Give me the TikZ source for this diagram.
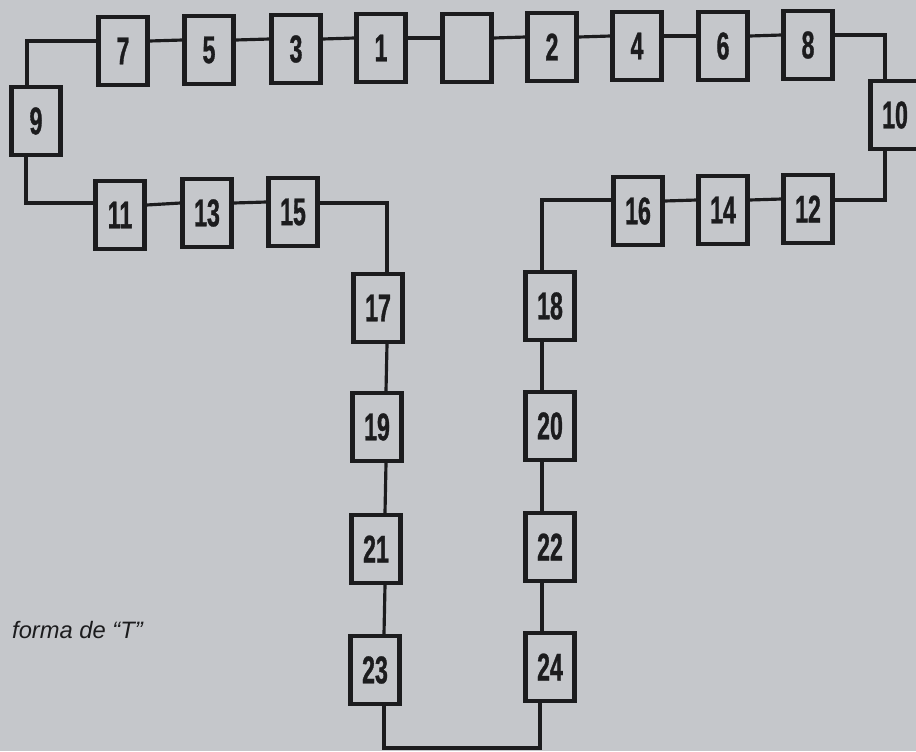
\documentclass[tikz,border=0pt]{standalone}
\usepackage{fontspec}
\setmainfont{Liberation Sans}
\newfontfamily\numfont[FakeStretch=0.6,FakeBold=0.8]{Liberation Sans}
\definecolor{paper}{RGB}{197,199,203}
\definecolor{ink}{RGB}{28,28,30}

\begin{document}
\begin{tikzpicture}[x=0.02cm, y=-0.02cm,
    every node/.style={text=ink, font=\numfont\bfseries\fontsize{22}{22}\selectfont},
    box/.style={draw=ink, line width=2.4pt, fill=paper, minimum width=0.98cm, minimum height=1.36cm, inner sep=0pt},
    link/.style={draw=ink, line width=1.8pt}]
        \fill[paper] (0,0) rectangle (916,751);
        \useasboundingbox (0,0) rectangle (916,751);
        % top row
        \node[box] (b7) at (123,51) {7};
        \node[box] (b5) at (209,50) {5};
        \node[box] (b3) at (296,49) {3};
        \node[box] (b1) at (381,48) {1};
        \node[box] (b0) at (467,48) {};
        \node[box] (b2) at (552,47) {2};
        \node[box] (b4) at (637,46) {4};
        \node[box] (b6) at (723,46) {6};
        \node[box] (b8) at (808,45) {8};
        % ends
        \node[box] (b9) at (36,121) {9};
        \node[box] (b10) at (895,115) {10};
        % second row
        \node[box] (b11) at (120,215) {11};
        \node[box] (b13) at (207,213) {13};
        \node[box] (b15) at (293,212) {15};
        \node[box] (b16) at (638,211) {16};
        \node[box] (b14) at (723,210) {14};
        \node[box] (b12) at (808,209) {12};
        % the two columns
        \node[box] (b17) at (378,308) {17};
        \node[box] (b19) at (377,427) {19};
        \node[box] (b21) at (376,549) {21};
        \node[box] (b23) at (375,670) {23};
        \node[box] (b18) at (550,306) {18};
        \node[box] (b20) at (550,426) {20};
        \node[box] (b22) at (550,547) {22};
        \node[box] (b24) at (550,667) {24};
        \coordinate (bot) at (460,748);
        \node[anchor=base west, font=\itshape\fontsize{13.5}{13.5}\selectfont] (cap) at (6,638) {forma de “T”};
        % links
        \foreach \a/\b in {b7/b5, b5/b3, b3/b1, b1/b0, b0/b2, b2/b4, b4/b6, b6/b8, b11/b13, b13/b15, b16/b14, b14/b12}
            \draw[link] ([yshift=0.2cm]\a.east) -- ([yshift=0.2cm]\b.west);
        \foreach \a/\b in {b17/b19, b19/b21, b21/b23}
            \draw[link] ([xshift=0.18cm]\a.south) -- ([xshift=0.18cm]\b.north);
        \foreach \a/\b in {b18/b20, b20/b22, b22/b24}
            \draw[link] ([xshift=-0.16cm]\a.south) -- ([xshift=-0.16cm]\b.north);
        \draw[link] ([yshift=0.2cm]b7.west) -| ([xshift=-0.18cm]b9.north);
        \draw[link] ([xshift=-0.2cm]b9.south) |- ([yshift=0.24cm]b11.west);
        \draw[link] ([yshift=0.18cm]b15.east) -| ([xshift=0.18cm]b17.north);
        \draw[link] ([yshift=0.2cm]b8.east) -| ([xshift=-0.2cm]b10.north);
        \draw[link] ([xshift=-0.2cm]b10.south) |- ([yshift=0.18cm]b12.east);
        \draw[link] ([yshift=0.22cm]b16.west) -| ([xshift=-0.16cm]b18.north);
        \draw[link] ([xshift=0.18cm]b23.south) |- (bot) -| ([xshift=-0.2cm]b24.south);
\end{tikzpicture}
\end{document}
